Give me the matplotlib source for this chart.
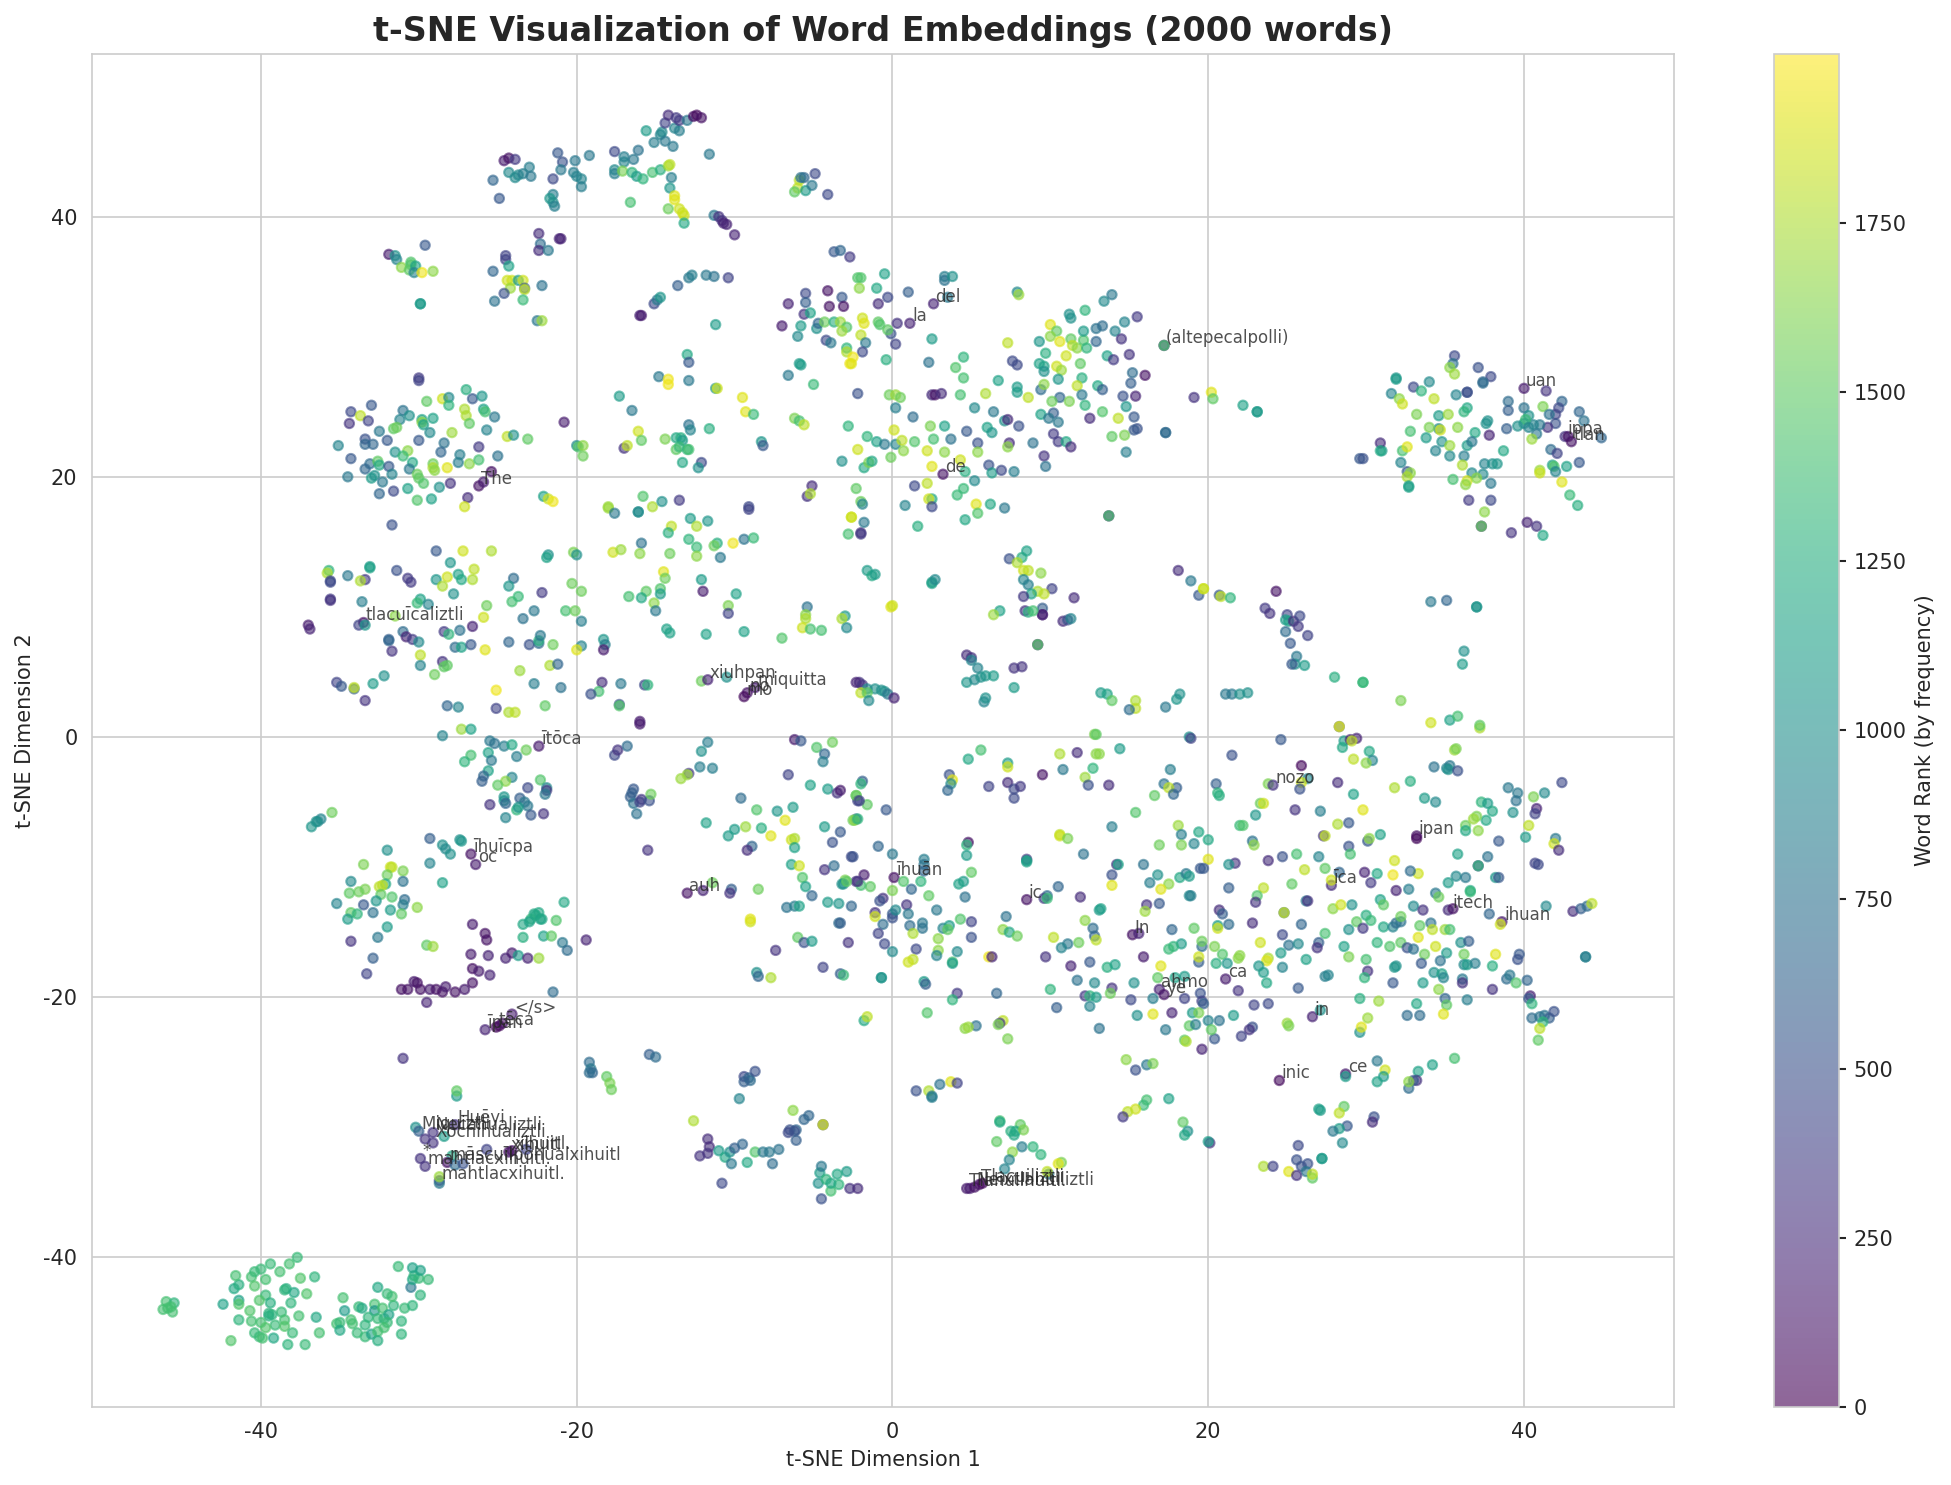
import numpy as np
import matplotlib.pyplot as plt
import seaborn as sns

sns.set_style("whitegrid")
plt.rcParams['axes.unicode_minus'] = False

# each entry: t-SNE x, t-SNE y, frequency rank
corner_cluster = [(-46,-43.4,1400),(-45.5,-43.5,1300),(-46.2,-44,1400),(-45.9,-43.9,1400),(-45.6,-44.2,1400),(-45.7,-43.8,1400),
(-42.4,-43.6,1150),(-41.9,-46.4,1450),(-41.4,-43.3,1150),(-41.4,-43.6,1450),(-41.7,-42.4,1200),(-41.4,-42.1,1250),(-41.6,-41.4,1400),(-40.6,-41.5,1400),(-40.4,-41.1,1350),(-40,-40.9,1350),(-39.4,-40.5,1350),(-39.7,-41.7,1400),(-40.4,-42.2,1450),(-38.8,-41.1,1400),(-38.2,-40.5,1400),(-37.7,-40,1350),(-37.5,-41.6,1450),(-36.6,-41.5,1300),(-38.4,-42.4,1250),(-38.5,-42.5,1300),(-37.9,-42.7,1200),(-37.1,-42.8,1450),
(-39.7,-42.9,1350),(-40.1,-43.3,1450),(-39.4,-43.5,1250),(-38.1,-43.5,1300),(-40.7,-44.1,1450),(-38.7,-44.2,1350),(-39.5,-44.3,1300),(-39.3,-44.4,1300),(-39.5,-44.5,1250),(-37.6,-44.5,1400),(-36.5,-44.6,1200),(-41.4,-44.8,1300),(-40.6,-44.9,1400),(-40,-45,1400),(-38.5,-44.8,1400),(-39.1,-45.2,1350),(-39.7,-45.4,1450),(-38.5,-45.3,1450),(-40.4,-45.8,1350),(-40.1,-46.1,1350),(-39.9,-46.2,1400),(-39.2,-46.2,1200),(-38,-45.8,1350),(-36.3,-45.8,1400),(-38.3,-46.7,1300),(-37.2,-46.7,1350),
(-34.8,-43.1,1400),(-34.7,-44.1,1100),(-35.2,-45.1,1400),(-35,-45,1350),(-35,-45.6,1200),(-33.8,-43.8,1350),(-33.6,-43.9,1200),(-32.8,-43.6,1400),(-32.8,-44.1,1050),(-32.3,-43.9,1400),(-33.2,-44.6,1300),(-34.3,-44.8,1400),(-34.2,-45.1,1400),(-33.4,-45.2,1300),(-32.6,-44.7,1350),(-32.2,-44.7,1300),(-31.9,-44.4,1150),(-32,-45,1350),(-33.9,-45.8,1350),(-33.4,-46.1,1350),(-33,-45.9,1150),(-32.6,-45.7,1400),(-32.2,-45.4,1400),(-32.6,-46.4,1250),(-31.1,-45.9,1300),(-31.1,-44.9,1300),(-30.9,-43.9,1350),(-30.4,-43.7,1300),(-29.9,-42.9,1300),(-31.6,-43.7,1300),(-31.7,-43,1400),(-32,-42.8,1350),(-32.6,-42.3,1200),(-30.5,-42.3,800),(-30.4,-41.7,1200),(-30,-41.6,1350),(-29.4,-41.7,1350),(-30.3,-41.4,1300),(-29.9,-41,1150),(-30.4,-40.8,1150),(-31.3,-40.7,1350)]

top_band = [(-24.6,44.3,150),(-24.3,44.5,100),(-23.9,44.4,350),(-25.3,42.8,650),(-24.9,41.4,550),(-24.3,43.4,950),(-23.9,43,950),(-23.7,43.2,950),(-23.4,43.3,850),(-23,43.8,850),(-22.9,43.1,800),(-21.5,42.9,450),(-21.2,44.9,550),(-20.9,44.2,500),(-21,43.6,800),(-20.1,44.3,800),(-19.2,44.7,800),(-20.2,43.4,850),(-20,43.1,900),(-19.7,42.9,900),(-19.7,42.3,850),(-21.5,41.7,850),(-21.7,41.4,1050),(-21.5,41.1,1000),(-21.4,40.8,850),
(-17.6,45,450),(-17,44.6,850),(-17,44.2,900),(-16.4,44.4,800),(-16.1,45.1,750),(-17.6,43.6,950),(-17.6,43.3,850),(-17.1,43.5,1600),(-16.5,43.4,1300),(-16.2,43.1,1100),(-15.8,42.9,1300),(-15.2,43.4,1400),(-14.7,43.6,1250),(-14.2,43.9,1700),(-14.1,44,1800),(-14,43,850),(-14.1,42.2,1050),(-16.6,41.1,1400),(-14.2,40.6,1550),(-13.8,41.6,1900),(-13.8,41.3,1900),(-13.5,40.6,1850),(-13.3,40.3,1850),(-13.2,40.1,1850),(-13.2,39.5,1200),
(-15.6,46.6,1100),(-15.1,45.7,850),(-14.7,46.3,900),(-14.6,46.5,950),(-14.4,45.8,800),(-13.9,45.4,800),(-13.8,46.8,900),(-13.5,46.6,850),(-14.4,47.2,400),(-14.2,47.8,250),(-13.7,47.6,350),(-13.5,47.4,350),(-13,47.4,800),(-12.6,47.7,100),(-12.4,47.8,50),(-12.1,47.6,100),(-11.6,44.8,800),(-11.3,40.1,800),(-11,40,300),(-10.8,39.7,300),(-10.7,39.5,200),(-10.5,39.4,200),(-10,38.6,200),
(-5.9,42.8,1800),(-5.6,43,650),(-5.8,43,750),(-4.9,43.3,450),(-6,42.2,1800),(-6.2,41.9,1500),(-5.5,42,1100),(-5.1,42.4,800),(-4.1,41.7,450),
(-31.9,37.1,150),(-31.5,37,1000),(-31.4,36.7,900),(-31.1,36.1,1650),(-30.5,36.5,1450),(-30.5,36.3,1450),(-30.6,35.9,1500),(-30.2,36.2,1150),(-30.3,35.7,900),(-29.8,35.7,1950),(-29.1,35.8,1650),(-29.6,37.8,550),(-29.9,33.3,1050),(-29.9,33.3,1100),
(-24.5,37,400),(-24.5,36.7,400),(-24.3,36.2,1150),(-25.3,35.8,650),(-24.4,35.1,1850),(-24.1,35.1,1850),(-23.7,35.1,1100),(-23.4,35.1,1850),(-23.3,34.5,550),(-23.3,34.4,1800),(-24.2,34.5,1700),(-24.6,34.1,500),(-25.2,33.5,750),(-23.4,33.6,1350),(-22.2,34.7,750),(-22.5,32,800),(-22.2,32,1700),
(-22.4,38.7,250),(-21,38.3,200),(-21.1,38.3,200),(-22.3,37.9,700),(-22.4,37.4,250),(-21.8,37.4,800),
(-16,32.4,200),(-15.9,32.4,150),(-15.1,33.3,450),(-14.9,33.6,800),(-14.7,33.8,1050),(-13.6,34.7,600),(-12.9,35.3,800),(-12.7,35.5,850),(-11.8,35.5,800),(-11.3,35.4,750),(-10.4,35.3,400),(-11.2,31.7,1100),
(-3.7,37.3,550),(-3.3,37.4,650),(-2.7,36.9,350)]

upper_middle = [(-4.1,34.3,100),(-5.5,34.1,450),(-5.5,33.4,600),(-6.6,33.3,200),(-4,33.1,100),(-3.2,33.8,550),(-3.1,33.1,100),(-5.6,32.5,300),(-5.2,32.6,1150),(-7,31.6,150),(-5.8,31.6,1100),(-4.8,31.4,1000),(-4.7,31.8,650),(-4.3,31.9,1550),(-3.7,31.9,1250),(-3.3,31.9,1700),(-2.9,31.5,1450),(-3.2,31.2,1700),(-6,30.8,950),(-4.2,30.5,450),(-3.9,30.3,800),(-2.9,29.9,1300),(-2.9,29.6,1750),(-2.7,28.7,1950),(-5.9,28.7,1100),(-5.8,28.6,1100),(-6.6,27.8,800),(-5,27.1,1350),
(-13,29.4,1200),(-12.9,28.8,550),(-14.8,27.7,800),(-14.2,27.5,1950),(-14.2,27.1,1950),(-12.9,27.4,800),(-11.2,26.8,1050),(-11.1,26.8,1850),(-9.5,26.1,1900),(-9.3,25,1900),(-8.8,24.8,1350),(-6.2,24.5,1600),(-5.9,24.3,1400),(-5.6,24,1800),(-2.8,23.9,1300),(-17.3,26.2,1100),(-16.5,25.1,800),(-20.8,24.2,150),
(-20,22.4,950),(-19.9,22.3,1450),(-19.6,22.4,1650),(-19.6,21.6,1550),(-17,22.2,300),(-16.8,22.4,1800),(-16.1,23.5,1850),(-15.9,22.8,1500),(-14.4,22.9,1600),(-13.7,23,1200),(-13.4,23,1250),(-13.3,22.8,1100),(-13.7,22.1,1500),(-13.5,22.3,1350),(-13,22.1,1300),(-12.9,22.1,1400),(-12.9,24,750),(-12.8,23.6,900),(-11.6,23.7,1250),(-8.3,22.7,1050),(-8.2,22.4,550),(-12.1,21.1,450),(-12.3,20.7,1000),(-13.3,21.1,1200),(-5.1,19.3,250),(-5.4,18.5,300),(-5.2,18.7,1750),(-3.2,21.2,1000),
(-18,17.7,1700),(-15.8,18.5,1450),(-15.2,17.7,1750),(-14.6,18.1,1000),(-13.5,18.2,350),(-9.1,17.7,450),(-16.1,17.3,1000)]

left_blob = [(-30,27.6,350),(-30,27.4,400),(-33,25.5,550),(-34.3,25,450),(-33.7,24.7,1800),(-34.4,24.1,300),(-33.2,24.3,400),(-31,25.1,750),(-30.6,24.7,1000),(-31.2,24.4,900),(-32.5,23.5,800),(-31.6,23.7,1500),(-31.4,23.8,1550),(-29.8,24.4,1150),(-29.8,24.2,1650),(-29.7,24,1150),(-29.1,24.5,1150),(-29.5,25.8,1500),(-28.5,26,1850),(-28.1,26.1,950),(-28.1,25.5,1300),(-27,26.7,1250),(-26.6,26,550),(-26,26.2,1050),(-27.1,25.2,1750),(-27,24.7,1750),(-25.9,25.2,1150),(-25.8,25,1400),(-25.2,24.6,800),(-26.8,24.1,1500),(-25.7,23.6,900),(-24.4,23.1,1800),(-24,23.2,1000),(-23.1,22.9,1500),(-27.9,23.4,1700),(-29.3,23.4,950),(-33.4,22.9,500),(-33.4,22.5,650),(-32.9,22.5,650),(-32,22.8,550),(-30,22.8,550),(-28.4,22.6,750),(-35.1,22.4,900),(-31.5,21.9,1000),(-30.7,22,1650),(-31,21.6,1350),(-28.6,21.9,650),(-26.2,22.3,350),(-27.4,21.7,850),(-34.3,21.4,550),(-33.1,21,700),(-32.6,21.2,1500),(-32.5,20.9,1200),(-33.4,20.6,650),(-31.9,20.8,550),(-30.4,21.1,1200),(-30.6,20.6,800),(-29.1,21,1550),(-29.1,20.7,1750),(-29,20.5,1650),(-28.2,20.7,1900),(-27.5,21.1,850),(-26.8,21,1650),(-26.2,21.3,1400),(-25,21.6,750),(-25.4,20.4,100),(-34.5,20,800),(-33,19.9,1100),(-32.8,20.1,1000),(-32.3,19.6,800),(-31.7,20.2,900),(-30.1,20.2,1550),(-30,19.9,1500),(-29.7,19.5,1450),(-28.7,19.2,1000),(-28,19.5,300),(-26.2,19.3,100),(-25.9,19.6,150),(-30.7,19.1,1150),(-31.6,18.9,450),(-32.5,18.7,650),(-30.1,18.2,1450),(-29.2,18.3,1150),(-26.9,18.4,250),(-27.1,17.7,1850),(-22.1,18.5,1150),(-21.8,18.3,1850),(-21.5,18.1,1950)]

middle_left = [(-31.7,16.3,500),(-28.9,14.3,550),(-27.2,14.3,1850),(-25.4,14.3,1750),(-28,13.4,1050),(-33.1,13.1,1100),(-33.1,13,1150),(-35.7,12.8,1300),(-35.8,12.6,1750),(-34.5,12.4,800),(-31.4,12.8,500),(-35.6,12,450),(-35.6,11.9,450),(-33.4,12.1,350),(-33.7,12,1750),(-30.7,12.2,350),(-30.5,11.9,350),(-28.9,12.1,1050),(-28.2,12.3,1850),(-27.5,12.5,1150),(-27.3,12.1,1200),(-26.5,12.9,1800),(-26.6,12.1,1750),(-28.5,11.6,1750),(-27.8,11,1000),(-35.6,10.6,350),(-35.6,10.5,300),(-33.6,10.4,850),(-29.9,10.6,1150),(-30.1,10.3,1350),(-29.4,10.2,900),(-25.7,10.1,1550),(-25.9,9.2,1850),(-31.5,9.3,1650),(-33.5,8.8,100),(-33.8,8.6,400),(-33.4,8.6,1050),(-37,8.6,150),(-36.9,8.3,200),(-26.6,8.5,200),(-28.4,8.1,350),(-27.4,8.2,750),(-28.1,7.9,1300),(-31,8.1,700),(-31.9,7.5,600),(-31.9,7.4,650),(-30.8,7.7,200),(-30.4,7.5,350),(-30,7.3,950),(-27.7,6.9,700),(-27.3,6.9,1150),(-26.7,7.1,550),(-31.7,6.6,300),(-29.9,6.3,1800),(-28.5,5.8,300),(-28.4,5.4,1500),(-28.2,5.5,1500),(-29.9,5.5,900),(-29,4.8,1550),(-32.2,4.7,1000),(-32.9,4.1,1100),(-35.2,4.2,400),(-34.9,3.9,550),(-34.1,3.7,600),(-34.1,3.8,1800),(-33.4,2.8,300),
(-25.8,6.7,1900),(-24.3,7.3,650),(-23,7.1,500),(-22.4,7.2,700),(-22.4,7.4,1250),(-22.3,7.8,800),(-21.5,7.1,1550),(-23.6,5.1,1700),(-21.7,5.5,1750),(-21.2,5.6,650),(-22.7,4.1,850),(-21,3.8,750),(-25.1,3.6,1950),(-28.2,2.4,650),(-27.5,2.3,900),(-25.1,2.2,400),(-24.3,1.9,1750),(-23.9,1.9,1800),(-22,2.4,1500),
(-24,12.2,700),(-24.3,11.6,1050),(-22.2,11.1,350),(-24.1,10.4,1400),(-23.7,10.8,1350),(-22.7,9.7,800),(-23.4,9.1,750),(-20.7,9.7,1400),(-20.1,9.7,1550),(-19.7,8.9,850),(-19.7,7,900),(-20,6.7,1900),(-21.8,14,1000),(-21.9,13.8,1150),(-20.2,14.2,1600),(-20,14,1000),(-20.3,11.8,1550),(-19.7,11.2,1550)]

middle_centre = [(-18,17.6,1700),(-17.6,17.2,800),(-16.1,17.3,950),(-9.1,17.5,400),(-12.8,16.8,1100),(-11.7,16.6,1050),(-12.4,16.2,1750),(-14,16.2,1800),(-14.2,15.7,1250),(-12.9,15.2,1300),(-12.4,14.6,1350),(-11.1,14.9,1250),(-11.3,14.7,1550),(-10.1,14.9,1950),(-9.4,15.2,750),(-8.8,15.3,1350),(-2.6,16.9,1850),(-2.8,15.6,1400),(-2,15.7,300),
(-15.9,14.9,750),(-17.7,14.2,1850),(-17.2,14.4,1700),(-16,14.1,1650),(-14.1,14.1,1550),(-12.4,13.9,1650),(-10.9,13.8,800),(-14.5,12.7,1900),(-14.4,12.2,1550),(-12.1,12.1,1100),(-12,11.2,150),(-9.9,11,1150),(-15.6,11.2,1500),(-14.7,11.4,1450),(-14.7,11,1100),(-16.7,10.8,1400),(-15.9,10.7,1200),(-15.1,10.3,1650),(-15,9.7,800),(-10.4,10.1,1600),(-10.4,9.5,400),(-5.4,10,750),(-5.5,9.4,1650),(-5.5,9.1,1750),(-5.7,8.4,1850),(-5.2,8.3,1400),(-4.5,8.2,1400),(-3,9.3,1100),(-3.2,9.1,1750),(-2.9,8.4,950),(-7,7.6,1450),(-9.4,8.1,1150),(-11.8,7.9,1150),(-14.3,8.3,1150),(-14.1,8,1150),(-18.3,7.5,1050),(-18.2,7.1,850),(-18.3,6.7,150),
(-18.4,4.2,250),(-17.2,4.1,800),(-15.7,4,450),(-15.5,4,1300),(-18.6,3.5,1400),(-19.1,3.3,500),(-17.3,2.5,500),(-17.3,2.4,1450),(-16,1.2,150),(-16,1,150),(-12.1,4.3,1550),(-11.7,4.4,200),(-10.5,4.6,1000),(-8.7,3.8,150),(-9.2,3.4,100),(-9.4,3.1,50),(-2.1,4.2,300),
(-2.3,4.2,200),(-1.9,4,300),(-1.6,3.7,950),(-1.1,3.7,1000),(-0.7,3.6,1000),(-0.5,3.5,1000),(-0.3,3.3,800),(0.1,3,200),(-2,3.4,1800),(-1.6,3.4,1500),(-1.5,2.8,950),(-0.1,10,1900)]

lower_left = [(-27.3,0.6,1700),(-26.7,0.6,1150),(-28.5,0.1,900),(-25.5,-0.3,800),(-25.2,-0.5,750),(-24.6,-0.7,850),(-24.1,-0.6,1200),(-23.2,-1,1550),(-22.4,-0.7,150),(-25.6,-1.2,1150),(-26.7,-1.4,1400),(-27.1,-1.9,1300),(-25.4,-1.8,800),(-23.8,-1.5,850),(-25.6,-2.6,1150),(-25.9,-3,650),(-26,-3.4,600),(-24.1,-3.1,900),(-24.5,-3.4,1650),(-25,-3.7,1500),(-22.3,-3.3,1450),(-21.9,-3.9,950),(-21.9,-4.1,350),(-22,-4.4,800),(-23.1,-3.9,450),(-24.6,-4.6,1050),(-24.6,-4.9,1000),(-24.5,-5.1,650),(-23.6,-4.7,600),(-23.3,-5,800),(-23.1,-5.3,800),(-25.5,-5.2,300),(-23.8,-5.6,1300),(-23.7,-5.4,1050),(-22.9,-6,550),(-22.1,-5.9,300),(-24.5,-6.2,900),
(-35.5,-5.8,1550),(-36.2,-6.3,900),(-36.4,-6.5,950),(-36.8,-6.9,1050),(-36.5,-6.5,1000),(-29.3,-7.8,600),(-28.5,-8.3,1000),(-28.3,-8.6,950),(-28,-9,1000),(-27.4,-7.9,1000),(-27.3,-8,1050),(-32,-8.7,1000),(-29.3,-9.7,900),(-26.7,-9,100),(-26.4,-9.8,150),
(-33.5,-9.8,1600),(-31.8,-10,1850),(-31.7,-10,1800),(-31,-10.3,1600),(-34.3,-11.1,950),(-31,-11.1,750),(-28.5,-11.2,1150),(-32,-10.6,1550),(-32.1,-11.3,1200),(-32.5,-11.5,1800),(-32.3,-11.4,1800),(-33.4,-11.7,1600),(-33.8,-11.9,1550),(-34.4,-12,1500),(-32.4,-12.1,1500),(-31.7,-12.3,1450),(-32.7,-12.6,1050),(-33.5,-12.9,550),(-35.2,-12.8,900),(-30.9,-12.5,700),(-31,-12.9,850),(-30.1,-13.1,1650),(-32.9,-13.5,750),(-31.8,-13.3,1100),(-34.3,-13.5,1500),(-33.9,-13.6,1300),(-31.1,-13.6,1500),(-34.5,-14,1100),(-20.8,-12.7,1200),(-22.4,-13.5,1200),(-22.7,-13.6,1200),(-22.9,-14,1300),(-21.3,-14.1,1450),(-22.3,-14,1100),
(-34.3,-15.7,300),(-32.6,-15.4,800),(-32.9,-17,600),(-33.3,-18.2,400),(-32,-14.6,1100),(-29.5,-16,1500),(-29.1,-16.1,1700),(-26.6,-14.4,150),(-25.8,-15.1,100),(-25.7,-15.6,100),(-26.7,-16.7,150),(-25.6,-16.8,200),(-24.5,-17,200),(-26.6,-17.8,100),(-26.2,-18,150),(-25.5,-18.3,200),(-24.1,-16.6,150),
(-31.1,-19.4,100),(-30.7,-19.4,100),(-30.3,-18.8,150),(-30.1,-18.9,100),(-29.9,-19.4,100),(-29.3,-19.4,150),(-28.9,-19.4,100),(-28.5,-19.6,100),(-28.3,-19.2,150),(-27.7,-19.6,100),(-27.1,-19.4,150),(-26.6,-18.9,100),(-29.5,-20.4,200),(-31,-24.7,300),
(-23.7,-16.8,1100),(-23.1,-17,200),(-22.4,-17,1700),(-23.4,-14.4,1200),(-23,-14.2,1150),(-22.6,-13.7,1200),(-22.2,-14,1200),(-23.4,-15.4,1250),(-22.1,-15.3,1150),(-21.6,-15.3,1500),(-20.9,-15.8,800),(-20.6,-16.4,700),(-19.4,-15.6,200),(-21.5,-19.6,700),
(-24.1,-21.3,150),(-25.8,-22.5,200),(-25.1,-22.3,50),(-24.9,-22.2,50),(-24.7,-22,100)]

bottom_left = [(-30.2,-30,1000),(-30,-30.3,600),(-27.7,-29.8,300),(-29.1,-30.4,300),(-29.6,-30.9,300),(-29.1,-31.2,300),(-28.4,-30.7,1100),(-29.9,-32.4,300),(-29.6,-33,300),(-27.9,-32.2,1200),(-28.2,-32.7,100),(-27.7,-32.9,700),(-27.2,-32.8,500),(-25.7,-31.7,400),(-24.3,-31.9,100),(-24.1,-31.8,100),(-23.2,-31.7,400),(-28.7,-34.1,400),(-28.7,-34.3,800),(-28.7,-33.8,1700),(-27.6,-27.6,1100),(-27.6,-27.2,1500),
(-19.2,-25,700),(-19.1,-25.5,800),(-19,-25.8,650),(-19.2,-25.8,700),(-18.1,-26.1,1500),(-17.9,-26.6,1600),(-17.8,-27.1,1550),(-15.4,-24.4,600),(-15,-24.6,700),(-12.6,-29.5,1750),(-11.7,-30.9,250),(-11.6,-31.5,250),(-11.7,-32,300),(-12.2,-32.2,300),(-11,-31.8,1100),(-10.6,-32.3,1200),(-10.3,-31.9,1000),(-10.2,-32.8,800),(-10.8,-34.3,450),(-10,-31.6,600),(-9.5,-31.3,650),(-9.4,-26.1,450),(-9.1,-26.2,650),(-9,-26.4,700),(-9.4,-26.5,600),(-9.7,-27.8,900),(-8.7,-25.7,500),(-9.2,-32.7,1200),(-8.7,-31.9,1450),(-8.2,-31.9,800),(-7.8,-31.9,800),(-7.6,-32.8,700),(-7.2,-31.7,750),(-6.5,-30.2,500),(-6.1,-30.2,650),(-4.6,-33.5,1100),(-4.5,-35.5,500),(-3.9,-34.9,1400),(-3.4,-34.4,1300),(-2.9,-33.4,1100),(-2.7,-34.7,300),(-2.2,-34.7,250),(-3.5,-33.6,1200),(-4.5,-33,800),(-4.7,-34.3,1000),(-4.2,-34,1300),(-3.9,-34.3,1200),
(-6.3,-28.7,1650),(-5.3,-29.1,650),(-5.6,-29.4,650),(-4.4,-29.8,400),(-4.4,-29.8,1850),(-6.6,-30.4,450),(-6.2,-30.3,500),(-6.1,-31,600),
(1.5,-27.2,500),(2.3,-27.2,1750),(3,-26.7,750),(3.7,-26.5,1900),(4.1,-26.6,400),(2.5,-27.6,800),(2.5,-27.7,850),
(6.8,-29.5,1400),(6.8,-29.6,1200),(8.1,-29.8,1500),(7.5,-30.3,1250),(7.8,-30.3,1200),(8.3,-30.2,1600),(7.7,-30.6,1200),(6.6,-31.1,1500),(8.2,-31.5,850),(8.9,-31.5,1300),(9.4,-32.1,1300),(7.6,-31.9,1650),(7.4,-32.5,900),(7.1,-33.2,900),(9.9,-33.6,800),(9.8,-33.4,1800),(10.7,-32.7,1600),(10.5,-32.8,1900),
(4.7,-34.7,150),(4.9,-34.7,150),(5.2,-34.6,100),(5.5,-34.4,100),(5.7,-34.3,50)]

top_right_middle = [(-0.5,35.6,1150),(-2.2,35.3,1450),(-2,35.3,1450),(-1,34.5,1200),(-2.1,34.5,1650),(-0.3,33.8,450),(-0.9,33.3,250),(1,34.2,600),(2.6,33.3,200),(3.3,35.4,850),(3.3,35.1,750),(3.8,35.4,1000),(3.5,33.8,800),(-1.9,32.2,1850),(-1.8,31.8,1900),(-0.9,31.9,1500),(-0.8,31.7,1450),(-0.1,31,500),(-0.3,31.3,1500),(0.3,31.8,300),(1.1,31.8,200),(0.2,30.2,400),(-2,30.9,1800),(-1.7,30.3,800),(-1.9,29.6,450),(-0.4,29,1250),(-2.5,29.2,1950),(-2.6,28.7,1900),
(2.5,30.6,1100),(2.3,28.8,750),(4.5,29.2,1300),(4,28.4,1450),(4.5,27.6,1400),(2.5,26.3,250),(2.7,26.3,100),(3.1,26.4,250),(-2.2,26.4,500),(-0.2,26.3,1550),(0.2,26.3,1700),(0.5,26.1,1550),(0.2,25.3,850),(1.3,24.6,700),(4.3,26.3,1400),(5.9,26.4,1750),(5.2,25.3,950),(6.4,25,800),(2.4,23.9,1600),(3.3,23.9,1150),(0.1,23.6,1850),(-1.6,23.1,1300),(-1,22.7,1150),(-0.5,22.5,800),(0.2,22.5,900),(0.6,22.8,1800),(1.4,22.7,1450),(2.6,22.9,1400),(3.7,22.9,750),(-2.2,22.1,1850),(0.7,22,1650),(2.2,22,1850),(3.3,21.9,1650),(-0.1,21.5,1550),(-1.8,20.7,1200),(-1.5,21.1,1600),(-1.3,21.2,1200),(2.5,20.8,1900),(4.3,21.3,1850),(3.2,20.2,100),(4.6,20.4,1250),(4.7,23.5,550),(5.4,22.6,500),(5.4,21.9,1650),(6,23.8,1150),(6.3,23.4,1050),(6.1,20.9,500),(6.3,20.3,1100),(6.9,20.5,450),(7.7,20.4,850),(5.2,19.7,950),(7.4,22.6,250),(7.3,22.3,1650),(8.9,22.6,750),(8,23.9,500),(7.1,24.3,1000),(7.3,24.4,250),
(6.7,27.4,1150),(7.6,28.9,450),(7.9,28.6,450),(7.3,30.3,1800),(7.9,34.2,950),(8,34,1700),(7.9,26.9,1100),(7.9,26.5,1100),(8.6,26.1,1800),
(10,31.7,1900),(10.4,31.2,1500),(10,30.8,1650),(9.3,30.4,1050),(10.6,30.4,1900),(11.3,30.6,1500),(11.4,30.1,1800),(11.7,29.9,1650),(12.1,30.5,1450),(12.3,29.9,1300),(11.2,32.5,1000),(11.3,32.2,1000),(12.2,32.8,1300),(12.1,31.2,1100),(12.9,31.4,750),(13.3,31.6,700),(13.4,33.5,950),(13.9,34,800),(14.7,31.9,900),(15.5,32.3,350),(14.1,31.2,900),(14.5,30.6,300),(12.9,30.4,650),(9.7,29.5,1250),(11,29.3,1850),(11.9,28.7,1500),(13.6,29.3,1150),(14,29,350),(15,29.4,300),(9.3,28.7,1150),(9.6,28.5,1150),(9.6,28.1,1000),(10.4,28.5,1850),(10.7,28.2,1700),(15.2,28,700),(16,27.8,100),(15.1,27.2,600),(12,27.6,1250),(10.5,27.5,1050),(11.7,27,1800),(13,27,1200),(13.3,26.7,600),(9.4,26.7,700),(9.6,27.1,1650),(10.6,26.1,650),(12,26.3,800),(14.6,26.2,500),(15.4,26.2,200),(10.1,25.8,1550),(11.2,25.8,1600),(12.2,25.5,1300),(14.8,25.4,1050),(13.3,25,1450),(9.4,24.8,1150),(10.2,24.9,600),(9.9,24.5,800),(10.5,24.2,800),(12.5,24.5,250),(14.3,24.5,1800),(15.3,24.6,550),(15.5,23.7,500),(15.3,23.6,550),(10.2,23.3,350),(10.5,22.7,350),(11,22.7,1200),(11.3,22.3,250),(13.9,23.1,1500),(14.7,23.2,1600),(17.3,23.4,650),(17.3,23.4,700),(14.8,21.9,850),(9.6,21.6,300),(9.7,20.8,750),
(17.2,30.1,100),(17.2,30.1,1400),(19.1,26.1,300),(20.2,26.5,1900),(20.3,26,1500),(22.2,25.5,1150),(23.1,25,1050),(23.1,25,1100),
(2.2,19.5,1800),(1.4,19.3,450),(-2.3,19.1,1500),(-2,18.1,1550),(-1.9,17.9,900),(2.5,18.3,1200),(2.3,18.3,1850),(2.5,17.7,450),(0.8,17.8,900),(4.5,19.1,1350),(4.1,18.6,1350),(5.3,17.9,1900),(5.4,17.2,1450),(6.2,17.9,1200),(7.1,17.6,800),(4.6,16.7,1200),(1.6,16.2,1250),(-1.8,16.5,800),(-2.6,16.9,1850),(-2,15.6,350),
(13.7,17,100),(13.7,17,1400),(7.4,13.7,500),(8.2,13.8,1250),(8.5,14.3,1150),(7.9,13.4,1750),(8.3,12.8,1850),(8.6,12.8,1800),(9.4,12.6,1650),(8.3,12.1,900),(8.6,11.7,850),(10.1,11.4,400),(9.2,11.2,1750),(9.6,11,1800),(8.8,11,1150),(8.3,10.8,350),(11.5,10.7,250),(6.8,9.7,1150),(6.4,9.4,1700),(8.4,9.7,300),(9.5,9.9,600),(9.5,9.4,150),(9.5,9.4,200),(10.8,8.9,250),(11.1,9,500),(11.3,9.1,900),(9.2,7.1,100),(9.2,7.1,1450),(5,6.1,300),
(-1.6,12.8,1100),(-1.3,12.4,1200),(-1.1,12.5,1100),(2.5,11.9,1100),(2.5,11.8,1150),(2.7,12.1,950),(0,10.1,1850),
(18.1,12.8,250),(18.9,12,800),(19.4,10.9,550),(19.7,11.4,1800),(19.7,11.4,1850),(20.7,10.9,550),(20.8,10.8,1800),(21.4,10.7,1300),(24.3,11.2,100),(23.6,9.9,350),(23.9,9.5,300),(25,9.4,400),(24.9,9,1100),(25.1,8.9,1150),(25.4,8.9,250),(25.8,9.3,450),(25.7,8.5,350),(24.9,8.1,700),(26.3,7.8,400),(25.2,7.2,550),(25.6,6.2,800),
(4.7,6.3,250),(5,5.9,900),(5.4,5.3,900),(4.7,4.2,1050),(5.2,4.4,950),(5.6,4.6,1000),(5.9,4.7,1050),(6.4,4.7,1100),(5.8,2.7,900),(5.9,3,1000),(7.7,3.8,1100),(7.7,5.3,300),(8.2,5.4,300),(8.6,9.6,1250),(8.9,9.7,1400),(13.2,3.4,1100),(13.6,3.3,1150),(13.9,2.8,1500),(15.4,2.8,1750),(15.4,2.2,1800),(15,2.1,700),(17.3,2.3,800),(18,2.9,1050),(18.2,3.3,1000),(12.8,0.2,1600),(21.1,3.3,800),(21.5,3.3,800),(22,3.3,1000),(22.5,3.4,1000),(25.5,5.6,1000),(26.1,5.5,1100),(25.3,5.6,550),(28,4.6,1250),(29.8,4.2,1300),(29.8,4.2,1350),(32.2,2.8,1600)]

right_blob = [(35.6,29.3,450),(35.5,28.7,750),(35.3,28.4,1650),(35.6,27.9,1700),(37.1,28.4,500),(37.9,27.7,450),(37.4,27.3,650),(37.4,27.2,700),(34,27.3,950),(31.9,27.6,1050),(31.9,27.5,1100),(33,26.9,450),(33.5,26.6,1300),(31.6,26.4,900),(32.1,26,1650),(32.3,25.6,1850),(34.3,26,1800),(36.4,26.5,450),(36.4,26.5,500),(35.7,26.3,900),(33.2,24.8,1600),(34.6,24.7,1100),(35.2,24.8,1700),(36.4,25.3,1200),(36.2,25,1300),(37.6,24.1,1000),(37.7,24.3,1000),(39,25.8,700),(39,25.1,600),(40,25.3,750),(40,26.8,150),(41.4,26.6,300),(42.4,25.8,650),(41.2,25.4,1600),(42.2,25.3,450),(40.3,24.7,1000),(42,24.8,400),(41.6,24.8,750),(43.5,25,650),(43.8,24.3,750),(42,24.1,500),(41.5,23.8,300),(41,24,800),(40.6,24,900),(40,24.1,1000),(40.1,24.4,1350),(39.6,23.9,1000),(40.3,23.8,900),(40.8,23.3,800),(40.5,22.9,1700),(38.9,23.7,600),(37.8,23.2,200),(36.9,23.4,1200),(35.8,23.8,1650),(34.6,23.7,950),(34.7,23.6,1850),(34,23.8,1600),(32.8,23.5,1400),(33.8,23,1100),(34.8,22.7,1000),(35.3,22.4,1700),(36.4,22.4,1100),(36.7,22.7,800),(38.7,22,1200),(32.3,22,1400),(32.6,22.3,1900),(31,22,1100),(30.9,22.6,250),(34.4,22,900),(35.3,21.6,950),(36.2,21.6,850),(32.2,21.1,900),(32.6,20.4,550),(32.8,20.3,1650),(32.6,20,1750),(32.7,19.3,1100),(32.7,19.2,1150),(36.1,20.9,1750),(37.5,21,900),(38,21,1000),(38.3,21,1050),(36.7,20.3,950),(37.4,20.2,950),(35.5,19.8,1400),(36.4,19.7,1850),(37,19.9,1650),(36.3,19.4,1650),(37.9,19.5,800),(41.7,22.1,700),(42.1,21.8,400),(43.5,21.1,550),(42.7,20.8,1150),(41.8,20.9,1150),(41.9,20.8,1450),(42,20.4,900),(41,20.5,1700),(41,20.3,1850),(42.4,19.6,1900),(42.9,18.6,1350),(43.4,17.8,1250),(42.6,23.1,300),(42.8,23.1,100),(43,22.7,100),(44.9,23,650),(36.5,18.2,350),(37.9,18.2,450),(37.5,17.3,1650),(37.3,16.2,150),(37.3,16.2,1500),(40.2,16.5,200),(40.8,16.2,300),(39.2,15.7,300),(41.2,15.5,1200),
(29.6,21.4,550),(29.8,21.4,500),(30.9,22,1200),(34.1,10.4,800),(35.1,10.5,650),(37,10,1000),(37,10,1050),(36.2,6.6,1000),(36.1,5.6,1100),(34.1,1.1,1850),(35.3,1.3,1150),(35.8,1.6,1400),(37.2,0.7,1750),(37.2,0.9,1500),(35.6,-1,1700)]

lower_centre = [(-1.9,-3.4,600),(-2,-3.6,1300),(-2.3,-4.5,1450),(-2.2,-4.9,400),(-1.6,-5.2,1500),(-0.4,-5.6,550),(-2.3,-6.3,700),(-2.5,-6.4,1550),(-0.9,-8.4,650),(0,-9,800),(-2.6,-9.2,450),(-1.8,-10.6,150),(-2.3,-11.1,300),(-3,-11,1600),(-1.4,-11.5,1500),(-2,-11.4,1400),(-3.2,-11.3,1000),(0.1,-10.8,100),(0.7,-11.1,1450),(1.8,-11.1,1300),(0,-11.8,1600),(1.2,-11.7,650),(2,-9.4,850),(2,-9.8,750),(2,-10.3,650),(-0.6,-12.4,300),(-0.8,-12.6,500),(-1.1,-13.5,300),(-1.1,-13.8,1850),(0,-13.6,550),(0,-13.9,500),(0.2,-13.3,950),(0.9,-12.9,300),(1,-13.6,800),(2.3,-12.2,1500),(2.8,-13.3,800),(-0.6,-14.4,700),(-0.9,-15.1,400),(-0.5,-15.9,450),(0,-16.5,950),(1.1,-14.5,700),(1.9,-14.3,800),(1.9,-14.7,750),(1.3,-15.1,1750),(1.5,-16.3,450),(3.2,-14.7,900),(3.6,-14.5,1100),(3.5,-14.8,1500),(4.3,-14,1450),(5,-14.2,400),(5,-15.4,500),(2.9,-15.5,1650),(2.9,-16.4,1650),(2.8,-16.8,900),(4.1,-16.5,950),(1.3,-17.1,1800),(1,-17.3,1850),(3.8,-17.3,1400),(3.8,-17.4,1100),(6.1,-16.9,1950),(6.3,-16.9,200),
(4.8,-8.1,100),(4.7,-8.3,1300),(4.7,-9.1,1100),(5,-10.4,1500),(4.5,-11.1,1100),(4.2,-11.3,1150),(4.6,-12.3,750),(7.2,-13.8,750),(7,-14.8,1650),(7.4,-15,1200),(7.9,-15.3,1550),(-0.7,-18.5,1000),(-0.7,-18.5,1050),(2,-18.8,1100),(2.1,-19,600),(4.1,-19.7,350),(3.8,-20.2,1300),(6.6,-19.7,650),(2.2,-21.2,1450),(-1.8,-21.8,1200),(-1.6,-21.5,1800),(5.3,-22.2,750),(4.6,-22.4,1650),(4.8,-22.3,1700),(7,-21.8,1800),(6.8,-22,350),(6.7,-22.1,1600),(7.3,-23.2,1600),
(5.6,-1,1400),(4.8,-1.7,1200),(7.3,-2,1100),(7.3,-2.3,1850),(3.6,-2.9,500),(3.8,-3.3,1900),(3.7,-3.6,950),(3.5,-4.1,650),(6.1,-3.8,400),(7.3,-3.5,250),(7.7,-4,450),(8.1,-3.8,350),(7.7,-4.7,450),(9.5,-2.9,100),(10.8,-2.5,800),(10.6,-1.3,1750),(11.7,-1.2,250),(12.9,-1.3,1650),(13.1,-1.3,1650),(14.4,-0.9,1100),(12.9,0.2,1500),(18.8,0,1000),(18.9,-0.1,400),(12.7,-2.4,1300),(12.2,-3.1,1700),(12.4,-3.7,500),(13.7,-3.7,250),(17.6,-2.5,850),(17.2,-3.6,750),(18,-3.9,600),(17.5,-3.9,1800),(17.8,-4.4,650),(16.6,-4.5,1500),(15.4,-5.8,1450),
(13.9,-6.9,850),(10.6,-7.5,1800),(10.6,-7.6,1850),(11.1,-7.8,1600),(12.1,-9,750),(18.1,-6.8,1700),(19.4,-7.3,1200),(18.3,-7.5,850),(19.1,-8.2,900),(16.9,-8.3,1550),(18.3,-8.3,1600),(14.2,-9.8,300),(14.3,-9.8,1150),(15.9,-9.8,750),(16.8,-10.6,1000),(18.2,-10.8,1200),(18.6,-10.5,800),(18.8,-10.7,1100),(19.5,-10.1,550),(16.3,-11.2,850),(17.5,-11.3,1650),(17,-11.7,1900),(13.9,-10.6,500),(13.9,-11.4,1900),(8.5,-9.4,300),(8.5,-9.5,1100),(8.5,-9.6,1150),(10.5,-11.5,650),(9.8,-12.2,700),(9.6,-12.4,350),(9.8,-12.4,1350),(8.5,-12.5,100),(11.9,-12.3,250),(16.1,-12.9,300),(16.9,-12.8,550),(16,-13.4,1700),(13.2,-13.2,1150),(13.1,-13.3,1100),(18.8,-12.2,950),(18.9,-12.2,850),
(12.2,-14.1,1650),(12.7,-14.7,700),(12.8,-15.3,650),(12.9,-15.6,1800),(10.2,-15.4,1800),(11.8,-15.8,1550),(11.1,-15.9,800),(10.7,-16.2,900),(15.2,-15.2,100),(15.6,-15.1,200),(17.7,-14.8,650),(19.1,-14.7,1500),(18.3,-15.9,1100),(17.8,-16.1,1300),(17.5,-16.3,1350),(19.6,-16.1,700),(9.7,-16.9,300),(11.3,-17.6,200),(12.5,-17.3,550),(13.6,-17.7,1250),(14.1,-17.5,1150),(15.9,-16.9,150),(17,-17.6,1900),(19.4,-17.3,600),(19.4,-16.9,1850),(16.8,-18.5,1500),(17.9,-18.5,1150),(18.5,-18.4,1100),(11.7,-18.7,750),(12.8,-18.9,950),(15.3,-18.9,1000),(10,-19.4,1300),(13.9,-19.3,300),(13.8,-19.7,1550),(16.9,-19.4,200),(17.2,-19.8,100),(19.5,-19.7,500),(12.2,-19.9,350),(12.5,-19.9,1300),(12.9,-20,1100),(15.1,-20.2,450),(16.5,-20.1,850),(18.5,-20.1,400),(19.6,-20.3,400),(19.7,-20.5,600),(10.4,-20.8,600),(12.5,-20.7,900),(15.5,-21.4,1000),(16.5,-21.3,1900),(17.7,-21.2,200),(19,-21.2,1100),(19.4,-21.2,1600),(18.8,-22.2,1500),(19.2,-22.1,850),(13.1,-22.4,750),(17.3,-22.5,800),(18.5,-23.3,1500),(18.6,-23.4,1750),
(14.8,-24.8,1650),(15.4,-25.6,500),(16.1,-25.2,800),(16.5,-25.1,1600),(16.1,-27.9,1400),(17.5,-27.8,1150),(15.9,-28.3,1350),(15.4,-28.6,1850),(14.9,-28.8,1800),(14.6,-29.2,350),(18.4,-29.6,1500),(18.7,-30.3,1000),(18.5,-30.6,1200),
(-6,-15.4,1500),(-5.6,-15.8,500),(-5.1,-15.7,1100),(-2.8,-15.8,300),(-7.4,-16.4,300),(-3.4,-14.3,700),(-4.4,-17.7,400),(-3.3,-18.2,600),(-3.1,-18.3,1350),(-8.6,-18.1,1000),(-8.5,-18.4,650),(-7.7,-18.5,1750),(-9,-14.2,1850)]

centre_mid = [(-17.6,-1.4,450),(-17.4,-1,300),(-16.8,-0.7,700),(-11.7,-0.4,850),(-12.1,-1.1,1000),(-12.2,-2.3,850),(-11.4,-2.4,850),(-12.9,-2.8,350),(-13.4,-3.2,1700),(-13,-2.9,1700),
(-6.6,-2.9,400),(-6.2,-0.2,150),(-5.8,-0.3,550),(-4.8,-0.8,1450),(-3.8,-0.4,1550),(-4.3,-1.3,650),(-4.4,-1.9,850),(-5.2,-3.7,1150),(-4.1,-4,1100),(-3.5,-4.3,300),(-3.3,-4.1,150),(-2.3,-4.5,1550),(-2.1,-4.9,400),
(-16.4,-4,550),(-16.5,-4.3,600),(-16.6,-4.6,600),(-16.4,-5.1,750),(-15.9,-4.8,350),(-16,-5,400),(-15.4,-4.9,500),(-15.3,-4.4,1550),(-16.2,-5.9,750),(-9.6,-4.7,700),(-6.3,-5.4,1100),(-7.3,-5.7,1050),(-8.6,-5.6,1450),(-6.8,-6.4,1900),(-11.8,-6.6,1150),(-9.3,-6.9,1700),(-10,-7.1,1100),(-10.4,-7.6,1100),(-8.3,-7,1250),(-7.7,-7.6,1900),(-6.4,-7.9,1850),(-6.2,-7.8,1750),(-6.2,-8.5,1150),(-4.3,-6.9,1100),(-3.3,-7.3,550),(-3.8,-8.1,500),(-8.9,-8.4,650),(-9.2,-8.7,250),(-2.5,-9.2,500),(-2.4,-6.4,1650),(-2.2,-6.3,1300),(-15.5,-8.7,300),
(-6.4,-9.8,1150),(-5.9,-9.9,1850),(-4.3,-10.2,300),(-3.7,-9.9,700),(-5.7,-10.8,1450),(-5.5,-11.5,1150),(-5.1,-12.2,650),(-3.1,-11.3,1000),(-2.9,-11.1,1500),(-4.1,-12.7,1100),(-3.4,-12.8,1050),(-2.6,-13,650),(-6.7,-13.1,750),(-6.2,-13,850),(-5.9,-13,1150),(-2.2,-11.1,300),(-13,-12,100),(-12,-11.8,200),(-11.4,-11.2,1550),(-10.2,-11.7,600),(-10.3,-12,300),(-8.5,-11.7,1550),(-9,-14,1900),(-3.3,-14.3,600)]

right_lower = [(28.3,0.8,550),(28.3,0.8,1900),(28.6,-0.3,1100),(28.5,-0.8,1200),(29.4,-0.1,200),(29,-0.2,200),(29.1,-0.3,1800),(30.2,-1.1,1200),(30.4,-1.8,900),(29.2,-1.7,1800),(30,-2,1650),(35.7,-0.9,1600),
(24.6,-0.2,550),(21.5,-1.4,500),(25.9,-2.2,50),(26.3,-3.2,900),(25.9,-3.5,1850),(25.8,-4,500),(23.8,-3.6,1600),(24.1,-3.7,300),(20.5,-3.6,600),(20.6,-4.3,1300),(20.7,-4.5,1250),(28.2,-3.5,250),(29.2,-4.4,1150),(31.8,-3.9,1750),(32.8,-3.4,1250),(34.3,-2.3,750),(35.1,-2.4,900),(35.3,-2.2,800),(35.2,-2.5,1000),(35.8,-2.6,500),(33.7,-4.7,1100),(34.4,-5,950),(39,-3.9,800),(39.6,-4.3,800),(39.5,-4.9,750),(40.6,-4.6,1600),(41.3,-4.3,950),(42.4,-3.5,450),(37.3,-5,1300),(37.7,-5.1,1100),(38,-5.7,1200),(37.6,-6.4,1200),(36.3,-6.8,1550),(37,-6.1,1600),(36.8,-6.3,1700),(36.3,-7.2,1200),(37.1,-7.2,1650),(39.3,-5.8,1000),(40.8,-5.5,200),(40.7,-5.9,400),(40.3,-6.8,1800),(40.1,-7.7,1100),(42,-7.8,800),(41.9,-8.2,1850),(42.2,-8.7,250),(38.4,-8,550),(35.8,-9,1150),(37.7,-9.2,750),(37.1,-9.9,300),(37.1,-9.9,1300),(40.7,-9.7,400),(40.9,-9.8,450),
(29.8,-5.6,1900),(23,-6,1050),(23.3,-5.1,1550),(23.5,-5.1,1850),(25.5,-5.6,300),(27.1,-5.7,850),(22,-6.8,1350),(22.2,-6.8,1450),(28.2,-6.7,1750),(28.9,-6.6,550),(30.9,-7.5,1150),(27.3,-7.6,300),(27.4,-7.6,1800),(30.1,-8,550),(30.2,-7.8,1650),(28.9,-8.4,500),(29,-9,1400),(22.8,-8,750),(22.9,-8.3,1650),(20,-7.9,1200),(24.7,-9.2,500),(25.6,-9,1400),(23.8,-9.5,250),(27,-9.2,900),(20,-9.4,1900),(21.7,-9.7,300),(21.3,-9.8,1000),(19.7,-10.1,550),
(33.2,-7.6,100),(33.2,-7.8,50),(31.8,-9.5,1850),(33.3,-10.5,1850),(32.8,-10.3,700),(29.9,-10.4,200),(30.7,-10.5,1200),(31.7,-10.6,1950),(28.3,-10.4,650),(27.4,-10.1,1500),(26.1,-10.2,1800),(27.8,-11.4,250),(27.8,-11,1850),(30.3,-11.2,350),(31.9,-11.8,200),(32.7,-11.7,850),(35.2,-11.2,1100),(35.7,-10.7,950),(36.3,-10.8,800),(38.2,-10.8,1050),(38.4,-10.8,550),(34.4,-12,800),(34.6,-12.3,1550),(36.6,-11.8,1200),(36.6,-11.9,1350),(25.3,-11.3,1500),(23.5,-11.6,1800),(23.1,-12.2,1450),(23,-12.7,300),(21.3,-11.6,600),(26.2,-12.6,800),(26.3,-12.6,300),(29.1,-12.9,1000),(30.9,-12.5,1150),(31.1,-12.9,1500),(33,-13,950),(33.6,-13.3,300),(35.2,-13.3,250),(35.5,-13.2,100),(37.8,-13.6,650),(38.6,-14.2,150),(38.5,-14.4,1850),(41.4,-13,950),(43.1,-13.4,250),(43.6,-13.2,600),(44,-13,700),(44.3,-12.8,1800),
(27.9,-13.2,1650),(28.4,-12.9,1850),(24.8,-13.5,600),(24.8,-13.5,1800),(20.7,-13.3,250),(20.9,-13.6,600),(21.3,-14.4,700),(22.8,-14.3,250),(20.6,-14.5,1100),(20.6,-14.7,1850),(25.9,-14.4,650),(27.4,-15.1,1400),(28.9,-14.8,1000),(30,-13.7,1250),(30.3,-14.1,1350),(29.4,-14.2,1500),(29.8,-14.7,350),(31.1,-14.6,1200),(31.7,-14.6,900),(31.9,-14.3,700),(32.2,-14.2,750),(32.2,-13.8,1550),(33.4,-14.5,1500),(34.1,-14.3,750),(34.2,-14.8,1800),(35,-14.8,1700),(35.3,-14.8,1400),(33.3,-15.4,1900),(30.7,-15.8,1300),(31.5,-16.1,1450),(32.2,-15.8,1500),(32.6,-16.2,500),(33,-16.3,750),(34.4,-16.1,1850),(36,-15.8,1000),(36.5,-15.7,600),(24.7,-15.2,450),(23.3,-15.8,1850),(25.1,-16,750),(25.7,-15.9,950),(27,-15.8,600),(26.9,-16.2,300),(28.6,-16.1,1150),(28.9,-16.9,1600),(30,-17.1,1400),(30.1,-18,300),(29.9,-18.5,1300),(33.7,-16.7,1550),(35.1,-16.6,1100),(34.7,-17.2,750),(36.2,-16.7,1550),(38.2,-16.7,1900),(39.7,-16.7,550),(39.6,-17.1,500),(43.9,-16.9,900),(43.9,-16.9,850),(33.5,-17.4,550),(31.9,-17.6,1000),(31.8,-17.7,1050),(36.2,-17.5,950),(36.4,-17.5,1100),(36.9,-17.4,850),(38,-17.6,1250),(34.3,-18.1,1000),(34.8,-18.2,1150),(34.9,-18.5,900),(36.1,-18.6,800),(36.1,-18.9,300),(38.9,-18.6,700),(39.1,-18.3,800),(39.5,-18.9,1450),(40.2,-18.7,650),(31.7,-18.9,550),(33.6,-18.9,1100),(34.6,-19.4,1650),(38,-19.4,300),(35,-20.1,650),(36.4,-20.2,850),(33.2,-20.5,1200),(35.1,-20.6,1500),(34.9,-21.3,1900),(32.6,-21.4,700),(33.4,-21.4,700),(29.6,-20.1,1250),(30.8,-20.3,1700),(30.1,-21.6,1700),(29.6,-22.7,1000),(29.7,-22.3,1900),(40.4,-19.9,200),(40.3,-20.1,550),(40.5,-20.5,1300),(40.5,-21.6,700),(41,-21.5,750),(41.3,-21.4,750),(41.6,-21.6,600),(41.9,-21.1,500),(41.2,-21.9,1300),(41,-22.4,1800),(40.9,-23.3,1500),
(21.9,-17,1650),(22,-16.8,1650),(20.9,-16.7,1450),(20.4,-16.1,1600),(19.6,-15.7,1550),(20.5,-17.4,1250),(21.2,-17.4,1050),(23.8,-17,1750),(23.7,-17.2,1900),(24.6,-16.6,1100),(24.7,-17.7,900),(23.2,-17.6,1050),(23.5,-18.1,1100),(23.7,-18.9,1200),(26.2,-17.1,1150),(27.4,-18.4,850),(27.6,-18.3,900),(21.1,-18.6,150),(21.9,-19.5,300),(25.7,-19.3,550),(22.9,-20.6,400),(23.8,-20.5,450),(21.6,-21.4,1100),(20.7,-21.8,750),(20,-21.8,900),(22.8,-22.3,500),(22.6,-22.5,300),(22.1,-23,400),(20.4,-23.2,550),(20.2,-22.5,1500),(25,-22,1700),(25.1,-22.2,1600),(26.6,-21.5,200),(27.1,-21,1000),(19.6,-24,200),
(30.7,-24.9,800),(31.2,-25.6,1850),(28.7,-25.9,150),(28.7,-26.1,1100),(31.1,-26.1,1100),(30.7,-26.5,1150),(33.3,-25.7,1150),(34.2,-25.2,1150),(35.6,-24.7,1400),(33.2,-26.4,300),(33,-26.4,550),(32.7,-27,700),(32.7,-26.5,1650),(24.5,-26.4,50),
(27,-28.6,1150),(27.1,-28.7,1100),(28.6,-28.4,1500),(28.3,-28.9,1800),(30.5,-29.2,500),(30.4,-29.6,250),(28.8,-29.9,550),(28.3,-30.1,1100),(27.9,-30.3,800),(28.5,-31.2,950),(20.1,-31.2,300),(20,-31.1,1100),(25.7,-31.4,450),(25.6,-32.5,500),(25.9,-33,500),(26.3,-32.8,500),(26.2,-33.4,800),(27.2,-32.4,1050),(27.2,-32.4,1100),(23.5,-33,1750),(24.1,-33,400),(25.1,-33.4,1900),(25.6,-33.7,300),(26.6,-33.9,1500),(26.6,-33.6,1800)]

# words that get a text label
label_words = ["</s>", "īpan", "tēca", "The", "la", "del", "de", "(altepecalpolli)", "uan", "ippa", "tlan",
               "tlacuīcaliztli", "xiuhpan", "miquitta", "no", "mo", "ītōca", "īhuīcpa", "oc", "auh", "īhuān",
               "ic", "In", "ahmo", "ye", "ca", "in", "inic", "ce", "ipan", "īca", "nozo", "itech", "ihuan",
               "Miquiztli", "Huēyi", "Necahualiztli", "Xochihualiztli", "xihuitl", "xihuitl.", "*",
               "māscuīlpōhualxihuitl", "mahtlacxihuitl.", "mahtlacxihuitl.", "Tlahuilhuitl.", "Neixtlahuiliztli", "Tlacuiliztli"]
label_x = [-24.1, -25.8, -25.1, -26.2, 1.1, 2.6, 3.2, 17.2, 40, 42.6, 43,
           -33.5, -11.7, -8.7, -9.2, -9.4, -22.4, -26.7, -26.4, -13, 0.1,
           8.5, 15.2, 16.9, 17.2, 21.1, 26.6, 24.5, 28.7, 33.2, 27.8, 24.1, 35.3, 38.6,
           -30, -27.7, -29.1, -29.1, -24.3, -24.1, -29.9, -28.2, -29.6, -28.7, 4.7, 5.2, 5.5]
label_y = [-21.3, -22.5, -22.3, 19.3, 31.8, 33.3, 20.2, 30.1, 26.8, 23.1, 22.7,
           8.8, 4.4, 3.8, 3.4, 3.1, -0.7, -9, -9.8, -12, -10.8,
           -12.5, -15.2, -19.4, -19.8, -18.6, -21.5, -26.4, -25.9, -7.6, -11.4, -3.7, -13.3, -14.2,
           -30.3, -29.8, -30.4, -30.9, -31.9, -31.8, -32.4, -32.7, -33, -34.1, -34.7, -34.6, -34.4]

cbar_ticks = [0, 250, 500, 750, 1000, 1250, 1500, 1750]

words = (corner_cluster + top_band + upper_middle + left_blob + middle_left + middle_centre + lower_left
         + bottom_left + top_right_middle + right_blob + lower_centre + centre_mid + right_lower)
xs = np.array([w[0] for w in words])
ys = np.array([w[1] for w in words])
ranks = np.array([w[2] for w in words])

fig = plt.figure(figsize=(1951 / 150, 1485 / 150), dpi=150)
ax = fig.add_axes([92 / 1951, 1 - 1407 / 1485, (1674 - 92) / 1951, (1407 - 54) / 1485])

points = ax.scatter(xs, ys, c=ranks, cmap='viridis', vmin=0, vmax=1999, s=20, alpha=0.6)

for word, lx, ly in zip(label_words, label_x, label_y):
    ax.annotate(word, (lx, ly), xytext=(1, 1), textcoords='offset points', fontsize=8, alpha=0.8)

ax.set_xlim(-50.7, 49.5)
ax.set_ylim(-51.5, 52.5)
ax.set_xticks([-40, -20, 0, 20, 40])
ax.set_yticks([-40, -20, 0, 20, 40])
ax.set_xlabel('t-SNE Dimension 1')
ax.set_ylabel('t-SNE Dimension 2')
ax.set_title('t-SNE Visualization of Word Embeddings (2000 words)', fontsize=16, fontweight='bold')

cax = fig.add_axes([1774 / 1951, 1 - 1407 / 1485, (1839 - 1774) / 1951, (1407 - 54) / 1485])
cbar = fig.colorbar(points, cax=cax, ticks=cbar_ticks)
cbar.set_label('Word Rank (by frequency)')
cax.grid(False)
cbar.ax.tick_params(length=3.5, width=1, color='0.15', left=False, right=True)

fig.savefig('out.png', dpi=150)
